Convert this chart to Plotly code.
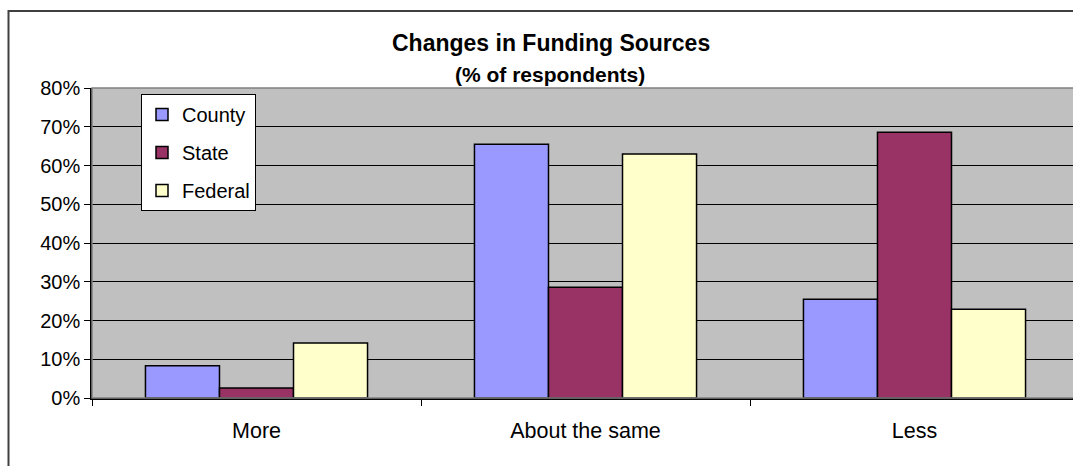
import plotly.graph_objects as go

categories = ["More", "About the same", "Less"]
series_names = ["County", "State", "Federal"]
county = [0.083, 0.655, 0.255]
state = [0.026, 0.286, 0.686]
federal = [0.142, 0.630, 0.229]
colors = ["#9999FF", "#993366", "#FFFFCC"]
y_ticks = [0, 0.1, 0.2, 0.3, 0.4, 0.5, 0.6, 0.7, 0.8]

W, H = 1073, 466
ML, MR, MT, MB = 92, 0, 88, 68
plot_w = W - ML - MR
plot_h = H - MT - MB
cat_px = 329.0

fig = go.Figure()
for name, vals, col in zip(series_names, [county, state, federal], colors):
    fig.add_trace(go.Bar(
        x=categories, y=vals, name=name, legendgroup=name,
        marker=dict(color=col, line=dict(color="black", width=1.5)),
    ))

font_fam = "Liberation Sans, Arial, sans-serif"

def px_x(px):
    return (px - ML) / plot_w

def px_y(py):
    return (H - MB - py) / plot_h

fig.update_layout(
    width=W, height=H,
    margin=dict(l=ML, r=MR, t=MT, b=MB, pad=0),
    paper_bgcolor="white",
    plot_bgcolor="#C0C0C0",
    barmode="group",
    bargap=0.325,
    bargroupgap=0,
    font=dict(family=font_fam, size=20, color="black"),
    showlegend=True,
    legend=dict(
        x=px_x(141), y=px_y(94), xanchor="left", yanchor="top",
        bgcolor="white", bordercolor="black", borderwidth=1,
        font=dict(family=font_fam, size=20, color="black"),
        traceorder="grouped", tracegroupgap=9, itemwidth=30,
    ),
    xaxis=dict(
        type="category",
        range=[-0.5, -0.5 + plot_w / cat_px],
        tickson="boundaries",
        ticks="outside", ticklen=6, tickcolor="black", tickwidth=1,
        ticklabelstandoff=12,
        showline=True, linecolor="black", linewidth=1.5,
        showgrid=False, zeroline=False,
        tickfont=dict(family=font_fam, size=21.5, color="black"),
        fixedrange=True,
    ),
    yaxis=dict(
        range=[0, 0.8],
        tickvals=y_ticks,
        tickformat=".0%",
        ticks="outside", ticklen=6, tickcolor="black", tickwidth=1,
        showline=True, linecolor="black", linewidth=1.5,
        showgrid=True, gridcolor="black", gridwidth=1,
        zeroline=False,
        tickfont=dict(family=font_fam, size=20, color="black"),
        fixedrange=True,
    ),
    shapes=[
        dict(type="rect", xref="paper", yref="paper",
             x0=0, x1=1.05, y0=0, y1=1,
             line=dict(color="#808080", width=1.5), layer="above",
             fillcolor="rgba(0,0,0,0)"),
        dict(type="rect", xref="paper", yref="paper",
             x0=px_x(8.5), x1=1.1, y0=-0.5, y1=px_y(11),
             line=dict(color="#404040", width=2),
             fillcolor="rgba(0,0,0,0)"),
    ],
    annotations=[
        dict(text="<b>Changes in Funding Sources</b>", xref="paper", yref="paper",
             x=px_x(551), y=px_y(43), xanchor="center", yanchor="middle",
             showarrow=False, font=dict(family=font_fam, size=23, color="black")),
        dict(text="<b>(% of respondents)</b>", xref="paper", yref="paper",
             x=px_x(550), y=px_y(75), xanchor="center", yanchor="middle",
             showarrow=False, font=dict(family=font_fam, size=21, color="black")),
    ],
)

fig.write_html("out.html")
